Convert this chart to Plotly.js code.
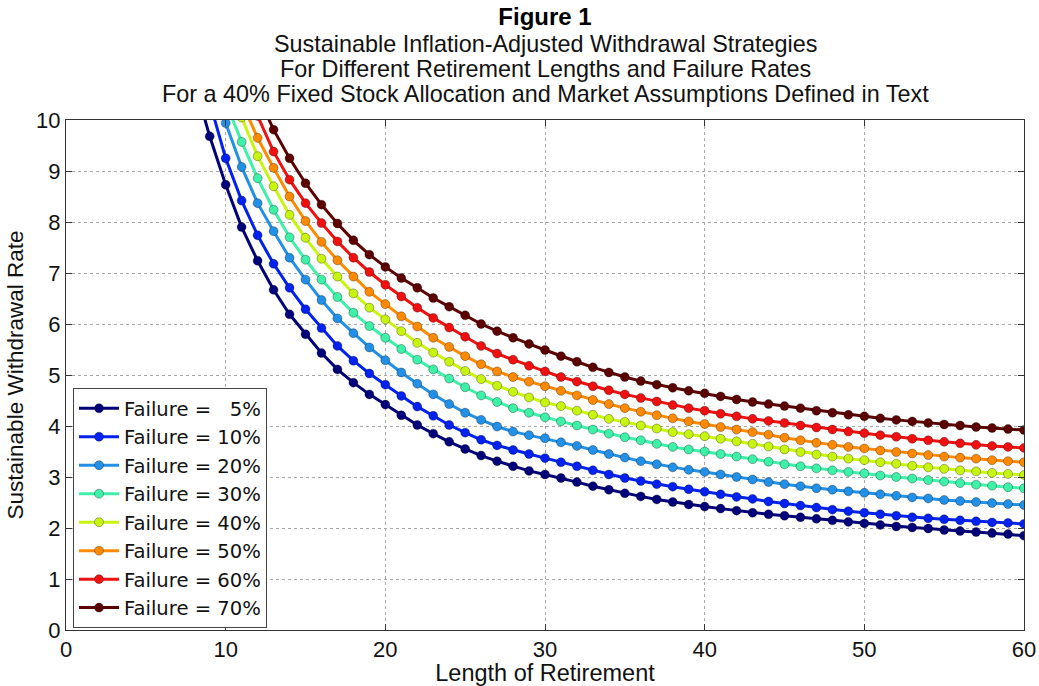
<!DOCTYPE html>
<html>
<head>
<meta charset="utf-8">
<script src="https://cdn.plot.ly/plotly-3.0.1.min.js"></script>
<style>html,body{margin:0;padding:0;background:#fff;}#chart{width:1039px;height:686px;}</style>
</head>
<body>
<div id="chart"></div>
<script>
// Failure-rate labels and first plotted retirement length of each series
const failureLabels = ["Failure = \u00a0\u00a05%", "Failure = 10%", "Failure = 20%", "Failure = 30%", "Failure = 40%", "Failure = 50%", "Failure = 60%", "Failure = 70%"];
const startYears = [8, 9, 9, 10, 11, 11, 12, 12];
const seriesColors = ["#00007a", "#0022f0", "#2290e6", "#3ef0a8", "#c8f510", "#ff8a00", "#f01010", "#5c0000"];

// Sustainable withdrawal rate (%) for consecutive retirement lengths, starting at startYears
const fail5 = [10.78, 9.68, 8.73, 7.90, 7.24, 6.67, 6.19, 5.80, 5.43, 5.11, 4.85, 4.62, 4.42,
  4.21, 4.02, 3.85, 3.69, 3.55, 3.42, 3.31, 3.21, 3.12, 3.05,
  2.98, 2.90, 2.82, 2.75, 2.68, 2.62, 2.56, 2.51, 2.46, 2.42,
  2.38, 2.34, 2.30, 2.27, 2.24, 2.21, 2.18, 2.15, 2.12, 2.09,
  2.06, 2.03, 2.01, 1.99, 1.96, 1.94, 1.92, 1.90, 1.88, 1.85];
const fail10 = [10.35, 9.25, 8.42, 7.74, 7.18, 6.71, 6.29, 5.92, 5.57, 5.28, 5.03, 4.81,
  4.59, 4.38, 4.20, 4.02, 3.87, 3.73, 3.62, 3.53, 3.45, 3.37,
  3.29, 3.21, 3.13, 3.05, 2.98, 2.92, 2.86, 2.81, 2.76, 2.71,
  2.66, 2.61, 2.57, 2.52, 2.48, 2.44, 2.40, 2.36, 2.33, 2.30,
  2.27, 2.24, 2.21, 2.19, 2.17, 2.15, 2.13, 2.11, 2.10, 2.08];
const fail20 = [10.85, 9.94, 9.08, 8.37, 7.82, 7.30, 6.87, 6.47, 6.11, 5.82, 5.54, 5.29,
  5.05, 4.83, 4.62, 4.43, 4.26, 4.12, 3.99, 3.89, 3.82, 3.76,
  3.68, 3.61, 3.53, 3.45, 3.38, 3.31, 3.25, 3.19, 3.14, 3.10,
  3.05, 3.00, 2.95, 2.90, 2.86, 2.82, 2.78, 2.75, 2.72, 2.69,
  2.66, 2.63, 2.60, 2.58, 2.55, 2.53, 2.51, 2.49, 2.47, 2.45];
const fail30 = [10.35, 9.57, 8.86, 8.24, 7.70, 7.26, 6.87, 6.53, 6.22, 5.96, 5.73,
  5.51, 5.30, 5.11, 4.93, 4.76, 4.60, 4.47, 4.35, 4.26, 4.17,
  4.09, 4.01, 3.93, 3.85, 3.78, 3.72, 3.65, 3.59, 3.54, 3.50,
  3.45, 3.40, 3.35, 3.30, 3.25, 3.21, 3.17, 3.13, 3.10, 3.07,
  3.03, 3.00, 2.97, 2.94, 2.91, 2.88, 2.85, 2.83, 2.80, 2.78];
const fail40 = [10.05, 9.29, 8.70, 8.14, 7.69, 7.28, 6.93, 6.60, 6.32, 6.09,
  5.86, 5.63, 5.44, 5.26, 5.08, 4.92, 4.79, 4.67, 4.56, 4.46,
  4.39, 4.30, 4.22, 4.14, 4.08, 4.01, 3.95, 3.88, 3.84, 3.80,
  3.75, 3.70, 3.65, 3.60, 3.54, 3.49, 3.44, 3.40, 3.36, 3.33,
  3.29, 3.26, 3.22, 3.19, 3.16, 3.13, 3.11, 3.08, 3.06, 3.04];
const fail50 = [10.35, 9.65, 9.06, 8.50, 8.02, 7.61, 7.25, 6.93, 6.63, 6.39,
  6.15, 5.95, 5.73, 5.55, 5.37, 5.21, 5.07, 4.96, 4.87, 4.78,
  4.69, 4.60, 4.51, 4.43, 4.35, 4.28, 4.21, 4.15, 4.09, 4.04,
  3.98, 3.93, 3.88, 3.83, 3.77, 3.72, 3.67, 3.63, 3.59, 3.56,
  3.52, 3.49, 3.46, 3.43, 3.40, 3.38, 3.36, 3.33, 3.31, 3.29];
const fail60 = [10.08, 9.38, 8.83, 8.37, 7.98, 7.62, 7.30, 7.02, 6.77,
  6.54, 6.32, 6.12, 5.93, 5.75, 5.57, 5.42, 5.30, 5.18, 5.07,
  4.96, 4.87, 4.78, 4.70, 4.62, 4.55, 4.48, 4.41, 4.35, 4.30,
  4.24, 4.19, 4.14, 4.10, 4.06, 4.01, 3.97, 3.93, 3.89, 3.86,
  3.82, 3.79, 3.75, 3.72, 3.69, 3.66, 3.63, 3.61, 3.59, 3.57];
const fail70 = [10.50, 9.81, 9.25, 8.76, 8.34, 7.97, 7.64, 7.36, 7.12,
  6.90, 6.71, 6.51, 6.34, 6.17, 6.00, 5.86, 5.73, 5.61, 5.49,
  5.37, 5.26, 5.15, 5.05, 4.96, 4.88, 4.81, 4.75, 4.69, 4.64,
  4.58, 4.52, 4.47, 4.43, 4.39, 4.35, 4.30, 4.26, 4.22, 4.19,
  4.15, 4.12, 4.09, 4.06, 4.03, 4.01, 3.98, 3.96, 3.94, 3.92];

const seriesValues = [fail5, fail10, fail20, fail30, fail40, fail50, fail60, fail70];

const titleLines = [
  "Sustainable Inflation-Adjusted Withdrawal Strategies",
  "For Different Retirement Lengths and Failure Rates",
  "For a 40% Fixed Stock Allocation and Market Assumptions Defined in Text"
];

const FONT = "Liberation Sans, Arial, Helvetica, sans-serif";
const LEGEND_FONT = "DejaVu Sans, Liberation Sans, Arial, sans-serif";

const traces = seriesValues.map((vals, i) => ({
  type: "scatter",
  mode: "lines+markers",
  name: failureLabels[i],
  x: vals.map((_, k) => startYears[i] + k),
  y: vals,
  line: {color: seriesColors[i], width: 3},
  marker: {color: seriesColors[i], size: 9, line: {width: 0.7, color: "rgba(0,0,0,0.45)"}},
  cliponaxis: true
}));

const axisCommon = {
  ticks: "inside", ticklen: 6, tickcolor: "#333", tickwidth: 1,
  showline: true, linecolor: "#333", linewidth: 1, mirror: "ticks",
  showgrid: true, gridcolor: "#a8a8a8", griddash: "dot", gridwidth: 1,
  zeroline: false,
  tickfont: {family: FONT, size: 22, color: "#111"}
};

const annotations = titleLines.map((t, i) => ({
  text: t, showarrow: false, xref: "paper", yref: "paper",
  x: 0.5, xanchor: "center", y: (630 - [44, 69, 94][i]) / 510, yanchor: "middle",
  font: {family: FONT, size: 23.4, color: "#111"}
}));

const layout = {
  width: 1039, height: 686,
  margin: {l: 66, r: 15, t: 120, b: 56, pad: 0},
  paper_bgcolor: "#fff", plot_bgcolor: "#fff",
  font: {family: FONT, color: "#111"},
  title: {text: "<b>Figure 1</b>", font: {family: FONT, size: 24, color: "#000"},
          x: 0.5, xref: "paper", xanchor: "center", y: 1 - 17 / 686, yref: "container", yanchor: "middle"},
  xaxis: Object.assign({}, axisCommon, {range: [0, 60], tick0: 0, dtick: 10,
    title: {text: "Length of Retirement", font: {family: FONT, size: 23.5, color: "#111"}, standoff: 0}}),
  yaxis: Object.assign({}, axisCommon, {range: [0, 10], tick0: 0, dtick: 1,
    title: {text: "Sustainable Withdrawal Rate", font: {family: FONT, size: 22.5, color: "#111"}, standoff: 6}}),
  showlegend: true,
  legend: {x: 0.0073, y: 0.4745, xanchor: "left", yanchor: "top",
    bgcolor: "#fff", bordercolor: "#444", borderwidth: 1,
    font: {family: LEGEND_FONT, size: 19.6, color: "#111"}, itemwidth: 40, tracegroupgap: 0},
  annotations: annotations
};

Plotly.newPlot("chart", traces, layout, {staticPlot: true, displayModeBar: false});
</script>
</body>
</html>
